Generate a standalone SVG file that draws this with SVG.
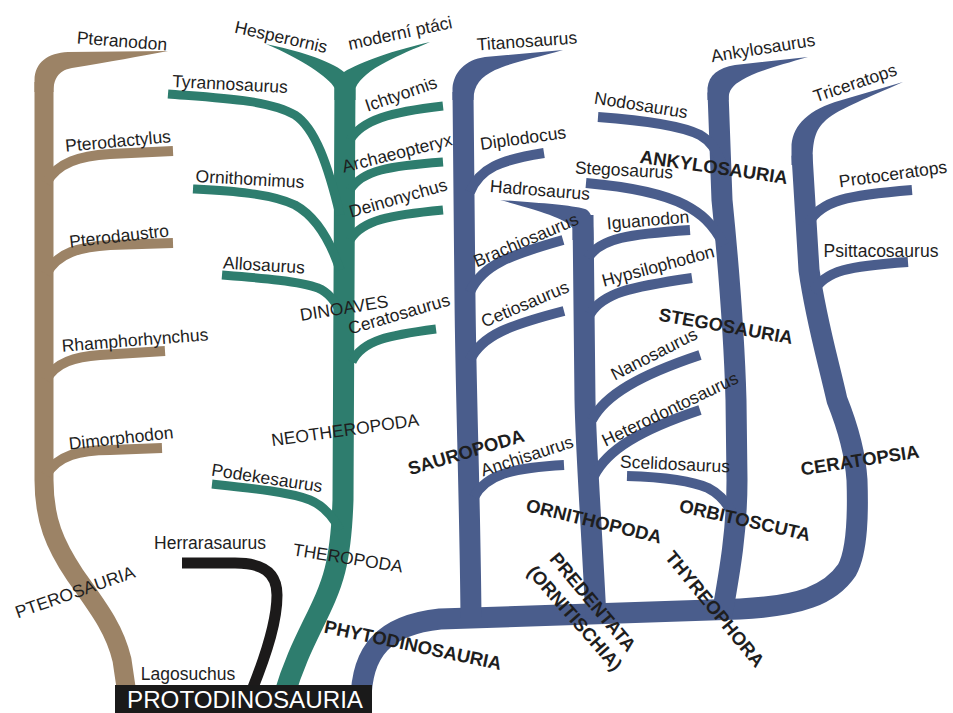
<svg xmlns="http://www.w3.org/2000/svg" width="953" height="713" viewBox="0 0 953 713">
<style>
.br{fill:none;stroke:#9c8366;stroke-width:10}
.gr{fill:none;stroke:#2e7d6e;stroke-width:9}
.bl{fill:none;stroke:#4a5d8c;stroke-width:10}
.bk{fill:none;stroke:#1c1a1a;stroke-width:11}
.tr{stroke-width:21}
.fbr{fill:#9c8366}
.fgr{fill:#2e7d6e}
.fbl{fill:#4a5d8c}
text{font-family:"Liberation Sans",Arial,sans-serif;font-size:17.5px;fill:#1e1e1e;text-anchor:middle;dominant-baseline:central}
.b{font-weight:bold;font-size:18.5px}
</style>
<rect width="953" height="713" fill="#fff"/>
<g id="connectors">
  <!-- Pterosauria (brown) -->
  <path class="br" style="stroke-width:19" d="M44 82 L44 480 C44 520 55 545 75 575 C100 610 115 630 122 660 L127 694"/>
  <path class="fbr" d="M34.5 92 L34.5 80 C35 62 48 53 68 52 L168 51 C140 56 110 62 72 68 C61 70 53.5 76 53.5 92 Z"/>
  <path class="br" d="M46 183 C58 162 80 156 110 154 L173 151"/>
  <path class="br" d="M46 274 C58 252 80 247 110 245 L173 243"/>
  <path class="br" d="M46 380 C56 362 75 357 100 355 L165 351"/>
  <path class="br" d="M46 475 C58 455 80 450 110 450 L162 448"/>
  <!-- Herrarasaurus (black) -->
  <path class="bk" d="M182 563 L235 563 C262 563 277 572 277 595 C277 620 268 650 252 690"/>
  <!-- Theropoda (green) -->
  <path class="gr tr" d="M284 696 C300 640 325 610 335 570 C340 550 342 530 343 500 L345 80"/>
  <path class="fgr" d="M334.5 100 L334.5 88 C330 78 300 58 266 44 C295 50 330 60 344 72 C360 62 395 50 430 42 C400 55 365 68 355.5 88 L355.5 100 Z"/>
  <path class="gr" d="M168 94 C220 98 270 100 295 115 C315 128 328 165 340 215"/>
  <path class="gr" d="M193 189 C230 191 270 193 295 205 C315 216 330 240 340 270"/>
  <path class="gr" d="M222 275 C260 278 300 281 318 288 C328 292 336 302 342 315"/>
  <path class="gr" d="M212 484 C250 488 290 492 310 500 C322 505 332 515 340 530"/>
  <path class="gr" d="M350 140 C362 120 390 112 443 106"/>
  <path class="gr" d="M350 190 C362 170 390 166 443 162"/>
  <path class="gr" d="M350 240 C362 220 390 215 443 210"/>
  <path class="gr" d="M352 362 C362 340 390 335 436 329"/>
  <!-- Phytodinosauria (blue) -->
  <path class="bl tr" d="M361 702 C361 650 385 625 440 619 L740 609 C800 606 830 595 847 570 C858 550 858 510 857 480 C855 450 845 420 837 400 C828 360 816 320 809 270 L802 155"/>
  <path class="bl tr" d="M463 92 L465 300 C466 400 470 500 471 618"/>
  <path class="bl tr" d="M583 215 L585 400 C586 450 590 500 596 618"/>
  <path class="bl tr" d="M718 92 L722 200 C728 260 734 330 736 400 L737 480 C737 530 730 570 722 615"/>
  <path class="fbl" d="M452.5 100 L452.5 88 C454 72 465 60 485 57 L563 50 C535 58 510 63 495 70 C481 77 473.5 85 473.5 100 Z"/>
  <path class="fbl" d="M707.5 100 L707.5 88 C709 75 718 68 735 65 L808 57 C780 65 755 72 742 80 C733 85 728.5 90 728.5 100 Z"/>
  <path class="fbl" d="M791.5 165 L791.5 148 C791.5 128 805 112 835 102 L903 82 C870 97 840 108 826 120 C815 130 812.5 140 812.5 165 Z"/>
  <path class="fbl" d="M572.5 240 L572.5 228 C568 220 545 212 500 200 C540 203 570 205 585 209 C592 212 593.5 220 593.5 240 Z"/>
  <path class="bl" d="M470 192 C480 168 500 160 544 153"/>
  <path class="bl" d="M470 292 C482 265 510 255 563 240"/>
  <path class="bl" d="M470 360 C482 335 510 325 564 311"/>
  <path class="bl" d="M474 497 C486 475 510 468 564 465"/>
  <path class="bl" d="M588 258 C600 238 630 234 690 230"/>
  <path class="bl" d="M590 314 C603 293 630 287 692 278"/>
  <path class="bl" d="M592 420 C605 395 640 375 700 355"/>
  <path class="bl" d="M594 476 C607 450 640 430 700 410"/>
  <path class="bl" d="M598 117 C640 120 680 125 700 135 C710 141 716 148 722 165"/>
  <path class="bl" d="M586 183 C620 186 660 192 685 205 C700 213 712 222 724 245"/>
  <path class="bl" d="M627 476 C660 477 690 480 708 488 C720 494 730 504 738 525"/>
  <path class="bl" d="M808 224 C820 200 850 195 912 190"/>
  <path class="bl" d="M813 292 C825 270 850 266 908 262"/>
</g>
<g id="pteranodon"><text transform="translate(122 41) rotate(4.5)">Pteranodon</text></g>
<g id="pterodactylus"><text transform="translate(118 141) rotate(-5.3)">Pterodactylus</text></g>
<g id="pterodaustro"><text transform="translate(119 236) rotate(-6.5)">Pterodaustro</text></g>
<g id="rhamphorhynchus"><text transform="translate(135 340) rotate(-4.5)">Rhamphorhynchus</text></g>
<g id="dimorphodon"><text transform="translate(121 438) rotate(-6.4)">Dimorphodon</text></g>
<g id="pterosauria"><text transform="translate(75 592) rotate(-19.3)">PTEROSAURIA</text></g>
<g id="lagosuchus"><text transform="translate(188 674)">Lagosuchus</text></g>
<g id="herrarasaurus"><text transform="translate(210 543)">Herrarasaurus</text></g>
<g id="hesperornis"><text transform="translate(281 37) rotate(12.6)">Hesperornis</text></g>
<g id="moderni-ptaci"><text transform="translate(400 33) rotate(-12)">moderní ptáci</text></g>
<g id="tyrannosaurus"><text transform="translate(230 84) rotate(3)">Tyrannosaurus</text></g>
<g id="ichtyornis"><text transform="translate(401 94) rotate(-19)">Ichtyornis</text></g>
<g id="archaeopteryx"><text transform="translate(397 153) rotate(-14.3)">Archaeopteryx</text></g>
<g id="ornithomimus"><text transform="translate(250 179) rotate(3.1)">Ornithomimus</text></g>
<g id="deinonychus"><text transform="translate(398 198) rotate(-16)">Deinonychus</text></g>
<g id="allosaurus"><text transform="translate(264 265) rotate(3.4)">Allosaurus</text></g>
<g id="dinoaves"><text transform="translate(344 308) rotate(-9)">DINOAVES</text></g>
<g id="ceratosaurus"><text transform="translate(399 314) rotate(-16.4)">Ceratosaurus</text></g>
<g id="neotheropoda"><text transform="translate(345 430) rotate(-8)">NEOTHEROPODA</text></g>
<g id="podekesaurus"><text transform="translate(267 478) rotate(8.6)">Podekesaurus</text></g>
<g id="theropoda"><text transform="translate(348 558) rotate(9)">THEROPODA</text></g>
<g id="titanosaurus"><text transform="translate(527 41) rotate(-4)">Titanosaurus</text></g>
<g id="diplodocus"><text transform="translate(523 138) rotate(-7.9)">Diplodocus</text></g>
<g id="hadrosaurus"><text transform="translate(540 190) rotate(4.6)">Hadrosaurus</text></g>
<g id="brachiosaurus"><text transform="translate(526 240) rotate(-23)">Brachiosaurus</text></g>
<g id="cetiosaurus"><text transform="translate(525 304) rotate(-23)">Cetiosaurus</text></g>
<g id="anchisaurus"><text transform="translate(527 456) rotate(-18)">Anchisaurus</text></g>
<g id="nodosaurus"><text transform="translate(641 105) rotate(9)">Nodosaurus</text></g>
<g id="ankylosaurus"><text transform="translate(763 48) rotate(-9)">Ankylosaurus</text></g>
<g id="stegosaurus"><text transform="translate(624 170) rotate(3)">Stegosaurus</text></g>
<g id="iguanodon"><text transform="translate(648 220) rotate(-4.8)">Iguanodon</text></g>
<g id="hypsilophodon"><text transform="translate(658 266) rotate(-15)">Hypsilophodon</text></g>
<g id="nanosaurus"><text transform="translate(654 354) rotate(-27)">Nanosaurus</text></g>
<g id="heterodontosaurus"><text transform="translate(670 409) rotate(-25.7)">Heterodontosaurus</text></g>
<g id="scelidosaurus"><text transform="translate(675 464) rotate(2.6)">Scelidosaurus</text></g>
<g id="triceratops"><text transform="translate(855 83) rotate(-18.6)">Triceratops</text></g>
<g id="protoceratops"><text transform="translate(893 174) rotate(-7.9)">Protoceratops</text></g>
<g id="psittacosaurus"><text transform="translate(881 251)">Psittacosaurus</text></g>
<g id="ankylosauria"><text class="b" transform="translate(714 167) rotate(8.2)">ANKYLOSAURIA</text></g>
<g id="stegosauria"><text class="b" transform="translate(726 326) rotate(10)">STEGOSAURIA</text></g>
<g id="ceratopsia"><text class="b" transform="translate(860 460) rotate(-8.7)">CERATOPSIA</text></g>
<g id="orbitoscuta"><text class="b" transform="translate(745 520) rotate(12.8)">ORBITOSCUTA</text></g>
<g id="thyreophora"><text class="b" transform="translate(715 609) rotate(50.5)">THYREOPHORA</text></g>
<g id="predentata"><text class="b" transform="translate(593 602) rotate(50)">PREDENTATA</text><text class="b" transform="translate(575 618) rotate(48.7)">(ORNITISCHIA)</text></g>
<g id="sauropoda"><text class="b" transform="translate(466 452) rotate(-16.4)">SAUROPODA</text></g>
<g id="phytodinosauria"><text class="b" transform="translate(413 645) rotate(12)">PHYTODINOSAURIA</text></g>
<g id="ornithopoda"><text class="b" transform="translate(594 521) rotate(13.6)">ORNITHOPODA</text></g>
<g id="protodinosauria">
  <rect x="115" y="685" width="257" height="28" fill="#1a1a1a"/>
  <text x="127" y="708" textLength="236" lengthAdjust="spacingAndGlyphs" style="fill:#fff;font-size:24px;text-anchor:start;dominant-baseline:alphabetic">PROTODINOSAURIA</text>
</g>
</svg>
